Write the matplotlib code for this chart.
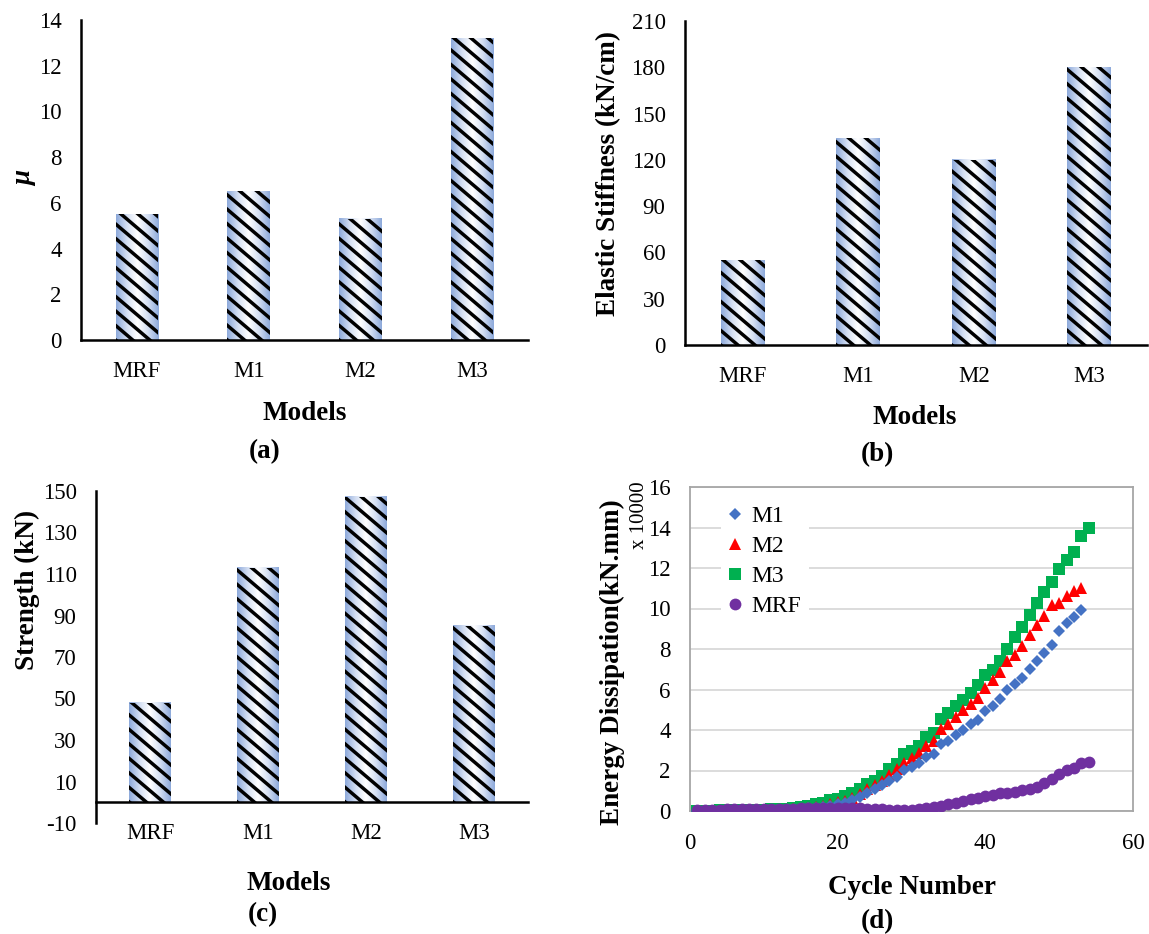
import numpy as np
import matplotlib
matplotlib.use("Agg")
import matplotlib.pyplot as plt
from matplotlib.colors import LinearSegmentedColormap
from matplotlib.collections import LineCollection
from matplotlib.transforms import IdentityTransform

plt.rcParams["font.family"] = ["Liberation Serif", "DejaVu Serif"]
plt.rcParams["axes.unicode_minus"] = False

W, H = 1149, 934

# bar charts
models = ["MRF", "M1", "M2", "M3"]
ductility = [5.5, 6.5, 5.3, 13.2]
stiffness = [55, 134, 120, 180]
strength = [48, 113, 147, 85]

# energy dissipation per cycle (x 10000 kN.mm)
m1_energy = [0.0, 0.0, 0.0, 0.0, 0.01, 0.01, 0.01, 0.02, 0.02, 0.03,
             0.03, 0.04, 0.05, 0.07, 0.1, 0.13, 0.16, 0.2, 0.27, 0.33,
             0.41, 0.54, 0.71, 0.9, 1.07, 1.27, 1.48, 1.68, 2.02, 2.19,
             2.38, 2.66, 2.83, 3.29, 3.45, 3.73, 4.0, 4.28, 4.5, 4.93,
             5.2, 5.54, 6.0, 6.25, 6.55, 7.0, 7.4, 7.8, 8.22, 8.9,
             9.3, 9.57, 9.95]
m2_energy = [0.0, 0.0, 0.0, 0.0, 0.0, 0.0, 0.0, 0.0, 0.01, 0.02,
             0.03, 0.05, 0.07, 0.09, 0.12, 0.16, 0.2, 0.27, 0.35, 0.42,
             0.5, 0.66, 0.82, 1.07, 1.27, 1.48, 1.76, 2.05, 2.38, 2.6,
             2.88, 3.2, 3.45, 4.03, 4.3, 4.65, 4.98, 5.26, 5.6, 6.07,
             6.46, 6.86, 7.4, 7.7, 8.14, 8.68, 9.18, 9.65, 10.15, 10.25,
             10.6, 10.85, 11.0]
m3_energy = [0.0, 0.0, 0.02, 0.03, 0.04, 0.05, 0.05, 0.06, 0.06, 0.07,
             0.08, 0.1, 0.12, 0.15, 0.2, 0.25, 0.33, 0.41, 0.53, 0.6,
             0.74, 0.9, 1.1, 1.32, 1.48, 1.73, 2.06, 2.3, 2.8, 2.96,
             3.2, 3.67, 3.87, 4.56, 4.85, 5.18, 5.5, 5.84, 6.2, 6.7,
             6.96, 7.4, 8.0, 8.6, 9.08, 9.7, 10.25, 10.8, 11.3, 11.96,
             12.4, 12.8, 13.6, 14.0]
mrf_energy = [0.03, 0.05, 0.06, 0.07, 0.08, 0.09, 0.1, 0.1, 0.1, 0.1,
              0.1, 0.1, 0.1, 0.12, 0.15, 0.16, 0.16, 0.16, 0.15, 0.15,
              0.14, 0.13, 0.13, 0.12, 0.1, 0.08, 0.05, 0.03, 0.03, 0.05,
              0.08, 0.13, 0.21, 0.25, 0.33, 0.41, 0.49, 0.58, 0.66, 0.74,
              0.8, 0.87, 0.9, 0.95, 1.02, 1.1, 1.2, 1.37, 1.56, 1.81,
              2.02, 2.14, 2.35, 2.42]

bar_cmap = LinearSegmentedColormap.from_list(
    "bar", ["#8eaadb", "#d3def2", "#ffffff", "#d3def2", "#8eaadb"])


def rect(left, right, top, bottom):
    return [left / W, 1 - bottom / H, (right - left) / W, (bottom - top) / H]


def stripe_bar(ax, patch, period=14.5, slope=0.85):
    # diagonal black stripes (down to the right), drawn in pixels and clipped to the bar
    bb = patch.get_window_extent()
    x0, x1, y0, y1 = bb.x0, bb.x1, bb.y0, bb.y1
    span = x1 - x0
    segs = []
    c = y0 - 2 * period
    while c < y1 + slope * span + 2 * period:
        segs.append([(x0 - 5, c + slope * 5), (x1 + 5, c - slope * (span + 5))])
        c += period
    lc = LineCollection(segs, colors="black", linewidths=2.5,
                        transform=IdentityTransform(), zorder=3)
    ax.add_collection(lc, autolim=False)
    lc.set_clip_path(patch)


def bar_panel(ax, values, ylim, step, zero_axis=False):
    x = np.arange(len(values))
    width = 0.38
    grad = np.linspace(0, 1, 64).reshape(1, -1)
    for xi, v in zip(x, values):
        ax.imshow(grad, extent=[xi - width / 2, xi + width / 2, 0, v],
                  aspect="auto", cmap=bar_cmap, zorder=2, interpolation="bilinear")
    bars = ax.bar(x, values, width=width, color="none", linewidth=0, zorder=3)
    ax.set_xlim(-0.5, len(values) - 0.5)
    ax.set_ylim(*ylim)
    ax.set_yticks(np.arange(ylim[0], ylim[1] + step / 2, step))
    ax.set_xticks(x)
    ax.set_xticklabels(models)
    for s in ["top", "right"]:
        ax.spines[s].set_visible(False)
    for s in ["left", "bottom"]:
        ax.spines[s].set_linewidth(1.8)
    if zero_axis:
        ax.spines["bottom"].set_position(("data", 0))
    ax.tick_params(length=0, labelsize=16.5, pad=14)
    ax.tick_params(axis="x", pad=15)
    for p in bars:
        stripe_bar(ax, p)


fig = plt.figure(figsize=(W / 100, H / 100), dpi=100)

# (a) ductility
ax_a = fig.add_axes(rect(81, 528, 20, 340))
bar_panel(ax_a, ductility, (0, 14), 2)

# (b) elastic stiffness
ax_b = fig.add_axes(rect(685, 1147, 21, 345))
bar_panel(ax_b, stiffness, (0, 210), 30)

# (c) strength
ax_c = fig.add_axes(rect(96, 528, 491, 823))
bar_panel(ax_c, strength, (-10, 150), 20, zero_axis=True)

# (d) energy dissipation
ax_d = fig.add_axes(rect(690, 1133, 487, 811))
series = [
    (m3_energy, "M3", "s", "#00b050", 8.0),
    (m2_energy, "M2", "^", "#ff0000", 8.5),
    (m1_energy, "M1", "D", "#4472c4", 6.0),
    (mrf_energy, "MRF", "o", "#7030a0", 8.5),
]
handles = {}
for vals, name, mk, col, ms in series:
    cyc = np.arange(1, len(vals) + 1)
    h, = ax_d.plot(cyc, vals, linestyle="none", marker=mk, color=col,
                   markersize=ms, markeredgewidth=0, label=name, zorder=3)
    handles[name] = h
ax_d.set_xlim(0, 60)
ax_d.set_ylim(0, 16)
ax_d.set_xticks([0, 20, 40, 60])
ax_d.set_yticks(np.arange(0, 17, 2))
ax_d.grid(axis="y", color="#d9d9d9", linewidth=1.3)
ax_d.set_axisbelow(True)
for s in ax_d.spines.values():
    s.set_color("#a6a6a6")
    s.set_linewidth(1.3)
ax_d.tick_params(length=0, labelsize=16.5, pad=14)
ax_d.tick_params(axis="x", pad=16)
order = ["M1", "M2", "M3", "MRF"]
leg = ax_d.legend([handles[n] for n in order], order,
                  loc="upper left", bbox_to_anchor=(0.07, 0.965),
                  fontsize=17, frameon=True, fancybox=False,
                  edgecolor="none", facecolor="white", framealpha=1,
                  handlelength=0.6, handletextpad=0.4, labelspacing=0.36,
                  borderpad=0.3, borderaxespad=0)
leg.set_zorder(4)

# axis titles and captions
bold = dict(fontsize=19.5, fontweight="bold", ha="center", va="center")
fig.text(25 / W, 1 - 178 / H, "μ", rotation=90, style="italic", **bold)
fig.text(609 / W, 1 - 174 / H, "Elastic Stiffness (kN/cm)", rotation=90, **bold)
fig.text(27 / W, 1 - 590 / H, "Strength (kN)", rotation=90, **bold)
fig.text(612 / W, 1 - 662 / H, "Energy Dissipation(kN.mm)", rotation=90, **bold)
fig.text(639 / W, 1 - 515 / H, "x 10000", rotation=90, fontsize=15,
         ha="center", va="center")

fig.text(305 / W, 1 - 413 / H, "Models", **bold)
fig.text(915 / W, 1 - 417 / H, "Models", **bold)
fig.text(289 / W, 1 - 883 / H, "Models", **bold)
fig.text(912 / W, 1 - 887 / H, "Cycle Number", **bold)

fig.text(265 / W, 1 - 452 / H, "(a)", **bold)
fig.text(877 / W, 1 - 455 / H, "(b)", **bold)
fig.text(263 / W, 1 - 915 / H, "(c)", **bold)
fig.text(877 / W, 1 - 922 / H, "(d)", **bold)

fig.savefig("out.png", dpi=100, facecolor="white")
